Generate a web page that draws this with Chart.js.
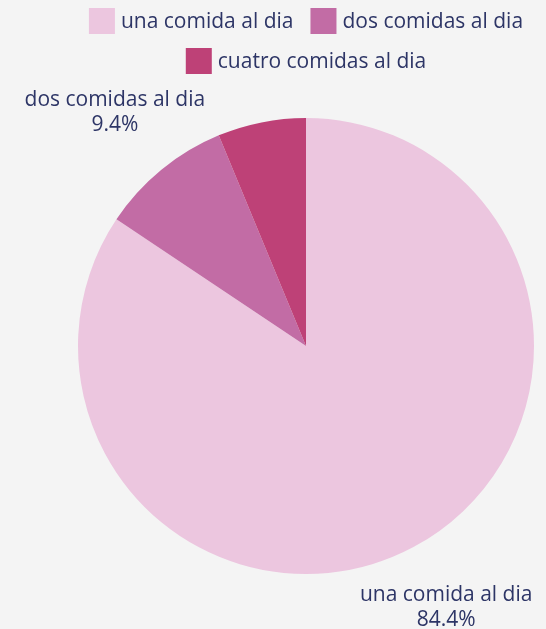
<!DOCTYPE html>
<html><head><meta charset="utf-8">
<script src="https://cdn.jsdelivr.net/npm/chart.js@4/dist/chart.umd.min.js"></script>
<style>html,body{margin:0;padding:0;background:#f4f4f4;}#w{width:546px;height:629px;}</style>
</head><body><div id="w"><canvas id="c"></canvas></div>
<script>
const categories = ["una comida al dia", "dos comidas al dia", "cuatro comidas al dia"];
const counts = [27, 3, 2];
const colors = ["#ecc6df", "#c26ca5", "#be4177"];
const labelShown = [true, true, false];
const FONT = "'Open Sans', sans-serif";
const TEXT = "#2d3566";

const legendPlugin = {
  id: 'customLegend',
  afterDraw(chart) {
    const ctx = chart.ctx;
    ctx.save();
    ctx.font = "21px " + FONT;
    ctx.textBaseline = 'middle';
    const box = 26, gapBT = 6, itemGap = 17;
    const rows = [[0,1],[2]];
    const cx = (chart.chartArea.left + chart.chartArea.right) / 2;
    const rowY = [21, 61];
    rows.forEach((r, ri) => {
      const widths = r.map(i => box + gapBT + ctx.measureText(categories[i]).width);
      const total = widths.reduce((a,b)=>a+b,0) + itemGap*(r.length-1);
      let x = cx - total/2;
      r.forEach((i, k) => {
        ctx.fillStyle = colors[i];
        ctx.fillRect(x, rowY[ri]-box/2, box, box);
        ctx.fillStyle = TEXT;
        ctx.textAlign = 'left';
        ctx.fillText(categories[i], x + box + gapBT, rowY[ri]+1);
        x += widths[k] + itemGap;
      });
    });
    ctx.restore();
  }
};

const labelPlugin = {
  id: 'outsideLabels',
  afterDatasetsDraw(chart) {
    const ctx = chart.ctx;
    const meta = chart.getDatasetMeta(0);
    const total = counts.reduce((a,b)=>a+b,0);
    ctx.save();
    ctx.font = "21px " + FONT;
    ctx.fillStyle = TEXT;
    ctx.textAlign = 'center';
    ctx.textBaseline = 'middle';
    meta.data.forEach((arc, i) => {
      if (!labelShown[i]) return;
      const mid = (arc.startAngle + arc.endAngle) / 2;
      const dx = Math.cos(mid), dy = Math.sin(mid);
      const l1 = categories[i];
      const l2 = (counts[i] / total * 100).toFixed(1) + "%";
      const w = Math.max(ctx.measureText(l1).width, ctx.measureText(l2).width);
      const h = 50;
      const t = Math.min(Math.abs(dx) > 1e-6 ? (w/2)/Math.abs(dx) : 1e9, Math.abs(dy) > 1e-6 ? (h/2)/Math.abs(dy) : 1e9);
      const r = arc.outerRadius + 41 + t;
      const x = arc.x + dx * r, y = arc.y + dy * r;
      ctx.fillText(l1, x, y - 13);
      ctx.fillText(l2, x, y + 12);
    });
    ctx.restore();
  }
};

new Chart(document.getElementById('c'), {
  type: 'pie',
  data: {
    labels: categories,
    datasets: [{ data: counts, backgroundColor: colors, borderWidth: 0, hoverOffset: 0, offset: 0 }]
  },
  options: {
    responsive: true,
    maintainAspectRatio: false,
    animation: false,
    layout: { padding: { top: 118, bottom: 55, left: 78, right: 12 } },
    plugins: { legend: { display: false }, tooltip: { enabled: false } }
  },
  plugins: [legendPlugin, labelPlugin]
});
</script></body></html>
